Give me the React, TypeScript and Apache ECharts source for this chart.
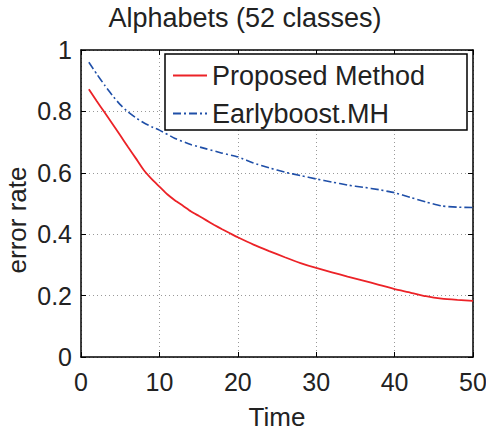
import React, { useEffect, useRef } from "react";
import * as echarts from "echarts";

const proposedX = [1, 2, 3, 4, 5, 6, 7, 8, 9, 10, 11, 12, 13, 14, 15, 16, 17, 18, 19, 20, 22, 24, 26, 28, 30, 32, 34, 36, 38, 40, 42, 44, 46, 48, 50];
const proposedY = [0.872, 0.834, 0.797, 0.76, 0.722, 0.684, 0.647, 0.609, 0.58, 0.555, 0.53, 0.51, 0.493, 0.475, 0.46, 0.445, 0.43, 0.416, 0.403, 0.39, 0.366, 0.345, 0.325, 0.306, 0.29, 0.276, 0.262, 0.249, 0.235, 0.221, 0.21, 0.198, 0.19, 0.186, 0.183];
const earlyX = [1, 2, 3, 4, 5, 6, 7, 8, 9, 10, 12, 14, 16, 18, 20, 22, 24, 26, 28, 30, 32, 34, 36, 38, 40, 42, 44, 46, 48, 50];
const earlyY = [0.96, 0.922, 0.886, 0.852, 0.822, 0.798, 0.779, 0.763, 0.75, 0.739, 0.712, 0.692, 0.678, 0.664, 0.652, 0.632, 0.616, 0.602, 0.591, 0.58, 0.57, 0.56, 0.553, 0.545, 0.535, 0.52, 0.505, 0.492, 0.488, 0.487];
const seriesNames = ["Proposed Method", "Earlyboost.MH"];
const titleText = "Alphabets (52 classes)";
const xName = "Time";
const yName = "error rate";

const FONT = "'Liberation Sans', Arial, Helvetica, sans-serif";
const TXT = "#222";

export default function App() {
  const ref = useRef<HTMLDivElement>(null);
  useEffect(() => {
    if (!ref.current) return;
    const chart = echarts.init(ref.current, undefined, { renderer: "svg" });
    const axisLine = { show: true, onZero: false, lineStyle: { color: "#000", width: 1.5 } };
    const tick = { show: true, inside: true, length: 5, lineStyle: { color: "#000", width: 1 } };
    chart.setOption({
      animation: false,
      backgroundColor: "#fff",
      textStyle: { fontFamily: FONT },
      title: {
        text: titleText,
        left: 245,
        textAlign: "center",
        top: 2,
        padding: 0,
        textStyle: { fontFamily: FONT, fontSize: 27, fontWeight: "normal", color: TXT, lineHeight: 32 },
      },
      grid: { left: 81, right: 13, top: 50, bottom: 76, outerBoundsMode: "none", containLabel: false },
      graphic: [
        {
          type: "rect",
          z: 50,
          shape: { x: 165, y: 54, width: 302, height: 76 },
          style: { fill: "#fff", stroke: "#000", lineWidth: 1.5 },
        },
        {
          type: "text",
          z: 50,
          x: 17,
          y: 220,
          rotation: Math.PI / 2,
          style: {
            text: yName,
            fontFamily: FONT,
            fontSize: 26,
            fill: TXT,
            align: "center",
            verticalAlign: "middle",
          },
        },
      ],
      legend: {
        z: 60,
        orient: "vertical",
        left: 172,
        top: 60,
        itemWidth: 34,
        itemHeight: 14,
        itemGap: 7,
        padding: 0,
        itemStyle: { opacity: 0 },
        textStyle: { fontFamily: FONT, fontSize: 27, color: TXT, lineHeight: 31 },
        data: seriesNames,
      },
      xAxis: [
        {
          type: "value",
          min: 0,
          max: 50,
          interval: 10,
          name: xName,
          nameLocation: "middle",
          nameGap: 46,
          nameTextStyle: { fontFamily: FONT, fontSize: 26, color: TXT, lineHeight: 28 },
          axisLine,
          axisTick: tick,
          axisLabel: { fontFamily: FONT, fontSize: 25, color: TXT, margin: 12 },
          splitLine: { show: true, lineStyle: { type: [1, 3], color: "#999", width: 1 } },
        },
        {
          type: "value",
          position: "top",
          min: 0,
          max: 50,
          interval: 10,
          axisLine,
          axisTick: tick,
          axisLabel: { show: false },
          splitLine: { show: false },
        },
      ],
      yAxis: [
        {
          type: "value",
          min: 0,
          max: 1,
          interval: 0.2,
          axisLine,
          axisTick: tick,
          axisLabel: {
            fontFamily: FONT,
            fontSize: 25,
            color: TXT,
            margin: 9,
            formatter: (v: number) => String(parseFloat(v.toFixed(1))),
          },
          splitLine: { show: true, lineStyle: { type: [1, 3], color: "#999", width: 1 } },
        },
        {
          type: "value",
          position: "right",
          min: 0,
          max: 1,
          interval: 0.2,
          axisLine,
          axisTick: tick,
          axisLabel: { show: false },
          splitLine: { show: false },
        },
      ],
      series: [
        {
          name: seriesNames[0],
          type: "line",
          showSymbol: false,
          symbol: "none",
          smooth: 0.15,
          color: "#ec2227",
          lineStyle: { color: "#ec2227", width: 1.8 },
          data: proposedX.map((x, i) => [x, proposedY[i]]),
        },
        {
          name: seriesNames[1],
          type: "line",
          showSymbol: false,
          symbol: "none",
          smooth: 0.15,
          color: "#1f4fa8",
          lineStyle: { color: "#1f4fa8", width: 1.6, type: [8, 3, 2, 3] },
          data: earlyX.map((x, i) => [x, earlyY[i]]),
        },
      ],
    });
    return () => chart.dispose();
  }, []);
  return <div ref={ref} style={{ width: 486, height: 433, position: "absolute", left: 0, top: 0 }} />;
}
